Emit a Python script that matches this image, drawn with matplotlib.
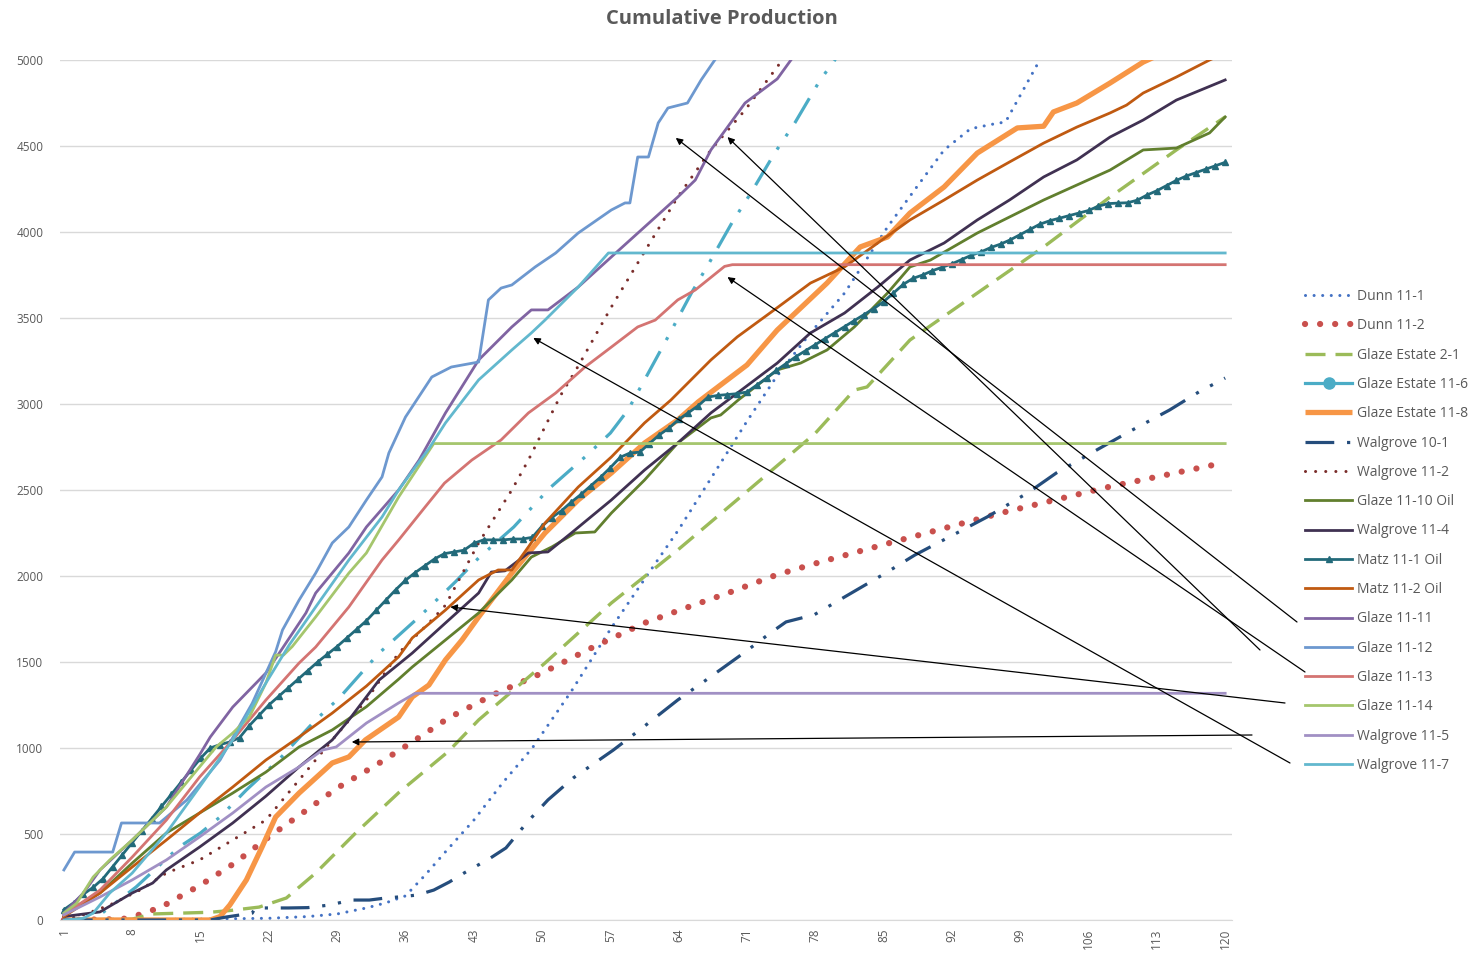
import matplotlib
matplotlib.use("Agg")
import matplotlib.pyplot as plt
from matplotlib.lines import Line2D
from matplotlib.legend_handler import HandlerLine2D

plt.rcParams['font.family'] = ['Open Sans', 'DejaVu Sans']

# ---- data ----
dunn_11_1_x = [1, 15, 22, 26, 29, 32, 34, 36, 38, 40, 43, 46, 49, 53, 57, 60.6, 64, 67, 71, 74, 77.5, 81, 85.4, 88.4, 91.2, 93.9, 96, 97.5, 101, 103]
dunn_11_1_y = [0, 5, 10, 20, 35, 70, 100, 140, 260, 390, 580, 800, 1000, 1330, 1690, 1990, 2270, 2540, 2900, 3157, 3413, 3645, 4029, 4262, 4477, 4600, 4625, 4640, 5000, 5180]

dunn_11_2_x = [1, 7, 9, 11, 13, 15, 18.5, 22, 25.6, 29, 33, 36.7, 40.4, 45, 50, 55, 60.5, 65, 69, 74, 78.5, 86, 97, 108, 120]
dunn_11_2_y = [0, 5, 35, 76, 140, 203, 331, 483, 628, 767, 901, 1035, 1174, 1310, 1436, 1580, 1727, 1820, 1900, 2006, 2081, 2198, 2366, 2517, 2660]

ge_2_1_x = [1, 8, 10, 16, 18, 21, 23.8, 26.8, 30.9, 35.3, 40.4, 43.5, 50.3, 57.1, 63.9, 70.8, 78, 82, 83.3, 87.7, 94.6, 101.4, 108.2, 115, 120]
ge_2_1_y = [0, 5, 35, 45, 55, 75, 128, 273, 506, 740, 980, 1163, 1494, 1843, 2151, 2482, 2830, 3081, 3099, 3372, 3645, 3913, 4203, 4477, 4669]

ge_11_6_x = [1, 4, 8.4, 12.8, 15, 17, 19.7, 23, 26.8, 29.2, 33.3, 37.4, 41.1, 43.5, 47.1, 50.8, 54.4, 57, 58.8, 60.5, 62.9, 65.3, 67, 69.5, 71.4, 73.9, 75.9, 78.5, 80, 82]
ge_11_6_y = [0, 0, 192, 424, 506, 599, 756, 930, 1163, 1290, 1552, 1762, 1965, 2105, 2285, 2512, 2692, 2831, 2965, 3140, 3390, 3645, 3808, 4058, 4227, 4465, 4634, 4884, 5000, 5200]

ge_11_8_x = [1, 16, 17, 18, 19.7, 21.3, 22.7, 25.1, 28.5, 30.2, 31.9, 35.3, 36.7, 38.4, 40.1, 41.8, 43.5, 46.9, 50.3, 53.7, 57.1, 60.5, 63.9, 66, 71, 74.1, 79.2, 82.6, 85.4, 87.7, 91.2, 94.6, 98.7, 101.4, 102.4, 104.8, 108.2, 111.6, 114, 117]
ge_11_8_y = [0, 0, 20, 87, 233, 424, 599, 738, 913, 948, 1047, 1180, 1297, 1366, 1512, 1628, 1762, 2017, 2250, 2442, 2599, 2773, 2907, 3012, 3227, 3430, 3703, 3913, 3971, 4110, 4262, 4459, 4605, 4615, 4698, 4750, 4866, 4988, 5050, 5150]

wg_10_1_x = [1, 16, 17.6, 20.3, 20.6, 24, 26, 28.2, 30.5, 32.3, 34, 35.3, 37.2, 38.9, 40.5, 42, 44.7, 46.3, 48.5, 50.6, 53.2, 57.3, 60, 63.9, 66.8, 70.8, 73.4, 75, 77.9, 81, 85.2, 88.2, 92.5, 95.6, 99.9, 102.7, 107, 110.1, 114.3, 117.3, 120]
wg_10_1_y = [0, 0, 17, 40, 70, 70, 72, 87, 116, 116, 128, 134, 145, 174, 221, 273, 360, 419, 570, 698, 826, 988, 1105, 1279, 1395, 1558, 1669, 1733, 1775, 1878, 2017, 2122, 2250, 2343, 2488, 2599, 2738, 2837, 2965, 3070, 3151]

wg_11_2_x = [1, 3, 5.7, 8.8, 11.5, 14.9, 18.3, 21.7, 25.1, 28.5, 32, 35.3, 38.7, 40.1, 43.5, 46.9, 48.6, 51.9, 53.7, 57.1, 60.6, 63.9, 67.3, 70.8, 74.4, 76]
wg_11_2_y = [0, 30, 87, 174, 273, 349, 465, 581, 814, 1047, 1279, 1552, 1744, 1830, 2192, 2500, 2674, 3050, 3220, 3564, 3895, 4203, 4477, 4709, 4983, 5100]

gl_11_10_x = [1, 4.7, 8, 11.5, 14.9, 18.3, 21.7, 25.1, 28.5, 32, 35.3, 36.7, 40.1, 43.5, 46.9, 48.9, 51, 53.4, 55.4, 57.1, 60.5, 63.9, 67.3, 68.3, 70.1, 74.1, 76.5, 79.2, 82, 85.4, 87.7, 89.8, 94.6, 101.4, 108.2, 111.6, 115, 118.4, 120]
gl_11_10_y = [40, 157, 331, 506, 622, 738, 860, 1006, 1105, 1240, 1400, 1471, 1628, 1785, 1977, 2110, 2169, 2250, 2256, 2366, 2558, 2773, 2919, 2936, 3023, 3198, 3238, 3314, 3448, 3645, 3797, 3837, 3994, 4186, 4360, 4477, 4488, 4576, 4669]

wg_11_4_x = [1, 4.7, 8, 10.1, 11.5, 14.9, 18.3, 21.7, 25.1, 28.5, 30.2, 33.3, 36.7, 40.1, 43.5, 44.8, 46.2, 48.6, 50.6, 53, 57.1, 60.5, 63.9, 67.3, 74.1, 77.5, 81, 84.4, 87.7, 91.2, 94.6, 97.9, 101.4, 104.8, 108.2, 111.6, 115, 120]
wg_11_4_y = [20, 47, 157, 215, 291, 424, 564, 720, 890, 1047, 1163, 1395, 1552, 1727, 1901, 2023, 2030, 2134, 2140, 2250, 2442, 2616, 2773, 2948, 3238, 3413, 3529, 3680, 3837, 3936, 4070, 4186, 4320, 4419, 4552, 4651, 4767, 4884]

# Matz 11-1 Oil carries a marker on every day, so one value per day
days = list(range(1, 121))
matz_11_1_y = [60, 100, 150, 190, 240, 310, 380, 450, 520, 590,
               660, 730, 800, 870, 940, 1000, 1020, 1035, 1060, 1130,
               1190, 1250, 1300, 1350, 1400, 1450, 1500, 1545, 1590, 1640,
               1690, 1740, 1800, 1860, 1920, 1975, 2020, 2060, 2100, 2130,
               2140, 2150, 2190, 2210, 2210, 2210, 2215, 2215, 2225, 2290,
               2340, 2380, 2430, 2475, 2525, 2575, 2630, 2690, 2715, 2720,
               2770, 2820, 2860, 2910, 2950, 2990, 3040, 3050, 3055, 3060,
               3070, 3110, 3150, 3195, 3235, 3275, 3310, 3345, 3380, 3415,
               3450, 3485, 3520, 3555, 3595, 3645, 3695, 3730, 3750, 3775,
               3795, 3815, 3840, 3865, 3885, 3910, 3930, 3955, 3985, 4015,
               4045, 4065, 4080, 4095, 4110, 4125, 4150, 4165, 4168, 4170,
               4185, 4215, 4240, 4270, 4300, 4325, 4345, 4365, 4385, 4405]

matz_11_2_x = [1, 4.7, 8, 11.5, 14.9, 18.3, 21.7, 25.1, 28.5, 32, 35.3, 36.7, 40.1, 43.5, 45.5, 46.9, 48.6, 50.3, 53.7, 57.1, 60.5, 63.2, 67.3, 70, 74.1, 77.5, 81, 84.4, 87.7, 91.2, 94.6, 97.9, 101.4, 104.8, 108.2, 109.9, 111.6, 115, 118.4, 120]
matz_11_2_y = [20, 157, 308, 465, 622, 773, 930, 1064, 1203, 1360, 1530, 1640, 1802, 1977, 2035, 2035, 2169, 2308, 2517, 2692, 2890, 3023, 3256, 3390, 3560, 3703, 3797, 3936, 4070, 4186, 4302, 4407, 4517, 4610, 4692, 4738, 4808, 4901, 5000, 5040]

gl_11_11_x = [1, 3, 4.7, 8, 11.5, 14.9, 16, 18.3, 21.7, 23.4, 25.8, 26.8, 30.2, 32, 35.3, 37.4, 40.1, 43.5, 46.9, 48.9, 50.6, 53.7, 57.1, 60.5, 63.9, 65.7, 67.3, 70.8, 74.1, 75.5, 77]
gl_11_11_y = [40, 157, 291, 465, 657, 960, 1064, 1238, 1436, 1580, 1785, 1901, 2134, 2285, 2500, 2674, 2948, 3256, 3448, 3547, 3547, 3680, 3855, 4029, 4203, 4302, 4477, 4750, 4890, 5000, 5110]

gl_11_12_x = [1, 2.1, 6, 6.9, 10.8, 13.6, 17, 20.3, 22.7, 23.4, 25.1, 26.8, 28.5, 30.2, 32, 33.6, 34.3, 36, 38.7, 40.7, 43.5, 44.5, 45.8, 46.9, 49.3, 51.4, 53.7, 57.1, 58.5, 59, 59.8, 60.9, 61.9, 62.9, 64.9, 66.3, 67.7, 69]
gl_11_12_y = [291, 395, 395, 564, 564, 698, 930, 1260, 1560, 1686, 1860, 2017, 2192, 2285, 2442, 2576, 2715, 2924, 3157, 3215, 3244, 3605, 3674, 3692, 3797, 3878, 3994, 4128, 4169, 4169, 4436, 4436, 4634, 4721, 4750, 4884, 5000, 5100]

gl_11_13_x = [1, 4.7, 8, 11.5, 14.9, 18.3, 21.7, 25.1, 26.8, 30.2, 33.6, 35.3, 38, 40, 42.8, 45.8, 48.6, 51.4, 54.4, 57.1, 59.8, 61.6, 63.9, 65.7, 68.7, 69.5, 120]
gl_11_13_y = [30, 174, 366, 581, 831, 1047, 1279, 1494, 1587, 1820, 2093, 2209, 2400, 2540, 2674, 2791, 2948, 3064, 3215, 3331, 3448, 3488, 3605, 3663, 3800, 3810, 3810]

gl_11_14_x = [1, 2.3, 4, 5.7, 8, 11.5, 14.9, 16.6, 18.3, 20, 21.7, 22.7, 23.5, 24.4, 26.8, 30.2, 32, 35.3, 38.9, 120]
gl_11_14_y = [40, 97, 250, 349, 465, 657, 890, 1006, 1087, 1180, 1378, 1540, 1540, 1590, 1762, 2017, 2134, 2459, 2770, 2770]

wg_11_5_x = [1, 4.7, 8, 11.5, 14.9, 18.3, 21.7, 25.1, 27.5, 28.9, 32, 35.3, 37, 120]
wg_11_5_y = [30, 134, 233, 349, 483, 622, 773, 890, 988, 1006, 1145, 1262, 1318, 1318]

wg_11_7_x = [1, 3, 4, 5.7, 8, 11.5, 14.9, 18.3, 21.7, 24.1, 26.8, 30.2, 33.6, 35.3, 36.7, 38.4, 40.1, 43.5, 46.9, 48.9, 50.3, 53.7, 56.8, 120]
wg_11_7_y = [0, 10, 40, 157, 273, 506, 773, 1047, 1378, 1600, 1820, 2093, 2343, 2500, 2610, 2740, 2890, 3140, 3314, 3413, 3488, 3680, 3878, 3878]

x_ticks = list(range(1, 121, 7))
y_ticks = list(range(0, 5001, 500))

# arrows: head in data units, tail in figure pixels (from top-left)
arrow_head_x = [69.0, 63.7, 69.0, 40.6, 30.5, 49.1]
arrow_head_y = [4552, 4547, 3738, 1820, 1035, 3384]
arrow_tail_px = [(1260, 650), (1297, 622), (1305, 672), (1285, 703), (1252, 735), (1290, 763)]

W, H = 1473, 956
fig = plt.figure(figsize=(W / 100, H / 100), dpi=100)
ax = fig.add_axes([60 / W, 1 - 920 / H, (1232 - 60) / W, 860 / H])

dot = (0, (0.01, 2.8))
dash_dot_dot = (0, (9, 4, 1, 4, 1, 4))

ax.plot(dunn_11_1_x, dunn_11_1_y, color='#4472C4', lw=2.2, linestyle=dot, dash_capstyle='round', label='Dunn 11-1')
ax.plot(dunn_11_2_x, dunn_11_2_y, color='#C9504D', lw=4.5, linestyle=(0, (0.01, 2.4)), dash_capstyle='round', label='Dunn 11-2')
ax.plot(ge_2_1_x, ge_2_1_y, color='#9BBB59', lw=2.4, linestyle=(0, (6, 3)), label='Glaze Estate 2-1')
ax.plot(ge_11_6_x, ge_11_6_y, color='#4BACC6', lw=2.3, linestyle=dash_dot_dot, label='Glaze Estate 11-6')
ax.plot(ge_11_8_x, ge_11_8_y, color='#F79646', lw=3.8, solid_capstyle='butt', label='Glaze Estate 11-8')
ax.plot(wg_10_1_x, wg_10_1_y, color='#254D7C', lw=2.3, linestyle=dash_dot_dot, label='Walgrove 10-1')
ax.plot(wg_11_2_x, wg_11_2_y, color='#7A2D2B', lw=2.2, linestyle=(0, (0.01, 3.3)), dash_capstyle='round', label='Walgrove 11-2')
ax.plot(gl_11_10_x, gl_11_10_y, color='#617F2E', lw=2.0, label='Glaze 11-10 Oil')
ax.plot(wg_11_4_x, wg_11_4_y, color='#403152', lw=2.0, label='Walgrove 11-4')
ax.plot(days, matz_11_1_y, color='#226A7A', lw=2.0, marker='^', markersize=5, label='Matz 11-1 Oil')
ax.plot(matz_11_2_x, matz_11_2_y, color='#C05A11', lw=2.0, label='Matz 11-2 Oil')
ax.plot(gl_11_11_x, gl_11_11_y, color='#8064A2', lw=2.0, label='Glaze 11-11')
ax.plot(gl_11_12_x, gl_11_12_y, color='#6D98CF', lw=2.0, label='Glaze 11-12')
ax.plot(gl_11_13_x, gl_11_13_y, color='#D47472', lw=2.0, label='Glaze 11-13')
ax.plot(gl_11_14_x, gl_11_14_y, color='#A5C66D', lw=2.0, label='Glaze 11-14')
ax.plot(wg_11_5_x, wg_11_5_y, color='#A190C4', lw=2.0, label='Walgrove 11-5')
ax.plot(wg_11_7_x, wg_11_7_y, color='#62B8CE', lw=2.0, label='Walgrove 11-7')

ax.set_xlim(0.6, 120.7)
ax.set_ylim(0, 5000)
ax.set_xticks(x_ticks)
ax.set_yticks(y_ticks)
ax.tick_params(axis='x', length=0, pad=6, labelsize=8.5, labelcolor='#595959', labelrotation=90)
ax.tick_params(axis='y', length=0, pad=12, labelsize=8.5, labelcolor='#595959')
ax.grid(axis='y', color='#D9D9D9', lw=1)
ax.set_axisbelow(True)
for s in ['left', 'right', 'top']:
    ax.spines[s].set_visible(False)
ax.spines['bottom'].set_color('#D9D9D9')

fig.text(722 / W, 1 - 19 / H, 'Cumulative Production', ha='center', va='center',
         fontsize=14.5, fontweight='bold', color='#595959')


class EndMarker(HandlerLine2D):
    # legend marker sits at the right end of the sample line
    def get_xdata(self, legend, xdescent, ydescent, width, height, fontsize):
        xdata, _ = super().get_xdata(legend, xdescent, ydescent, width, height, fontsize)
        return xdata, [xdata[-1]]


handles, labels = ax.get_legend_handles_labels()
proxy = Line2D([], [], color='#4BACC6', lw=2.3, marker='o', markersize=8)
handles[3] = proxy
leg = fig.legend(handles, labels, loc='upper left', bbox_to_anchor=(1305 / W, 1 - 289 / H),
                 frameon=False, fontsize=10, handlelength=3.4, handletextpad=0.35,
                 labelspacing=1.03, borderpad=0, borderaxespad=0,
                 handler_map={proxy: EndMarker(numpoints=1)})
for t in leg.get_texts():
    t.set_color('#595959')

for hx, hy, (tx, ty) in zip(arrow_head_x, arrow_head_y, arrow_tail_px):
    ax.annotate('', xy=(hx, hy), xycoords='data', xytext=(tx, H - ty), textcoords='figure pixels',
                arrowprops=dict(arrowstyle='-|>', color='black', lw=0.9, mutation_scale=10,
                                shrinkA=0, shrinkB=0))

fig.savefig('out.png', dpi=100)
